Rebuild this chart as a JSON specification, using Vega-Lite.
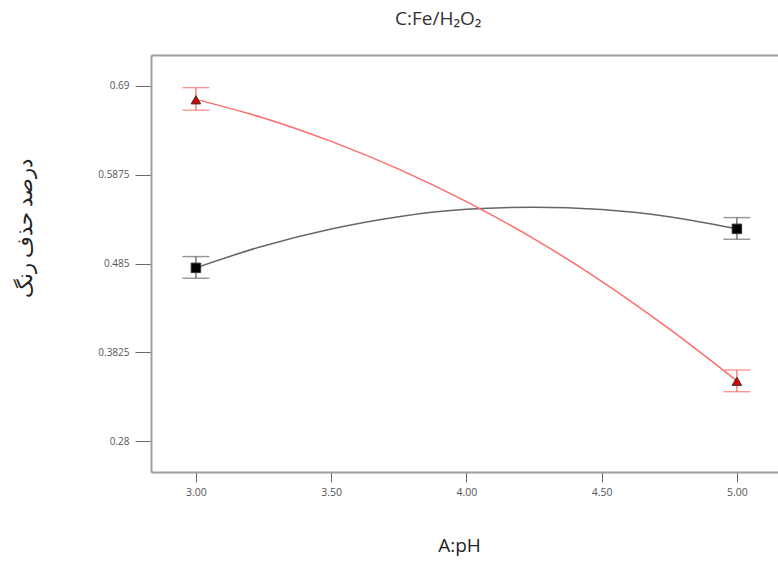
{
  "$schema": "https://vega.github.io/schema/vega-lite/v6.json",
  "width": 627,
  "height": 417,
  "autosize": {"type": "none"},
  "padding": {"left": 151, "top": 55, "right": 0, "bottom": 94},
  "background": "white",
  "config": {
    "view": {"stroke": null},
    "axis": {"grid": false, "labelFont": "Open Sans", "titleFont": "Open Sans", "labelColor": "#555555", "tickColor": "#6a6a6a", "domainColor": "#a0a0a0", "domainWidth": 2, "titleFontWeight": "normal", "titleColor": "#222222"}
  },
  "title": {"text": "C:Fe/H₂O₂", "anchor": "start", "frame": "group", "dx": 244, "offset": 26, "fontSize": 19, "font": "Open Sans", "fontWeight": "normal", "color": "#333333"},
  "datasets": {
    "curve": [
      {"pH": 3.0, "removal": 0.4800, "level": "black"},
      {"pH": 3.25, "removal": 0.5053, "level": "black"},
      {"pH": 3.5, "removal": 0.5249, "level": "black"},
      {"pH": 3.75, "removal": 0.5391, "level": "black"},
      {"pH": 4.0, "removal": 0.5475, "level": "black"},
      {"pH": 4.25, "removal": 0.5500, "level": "black"},
      {"pH": 4.5, "removal": 0.5472, "level": "black"},
      {"pH": 4.75, "removal": 0.5391, "level": "black"},
      {"pH": 5.0, "removal": 0.5250, "level": "black"},
      {"pH": 3.0, "removal": 0.6745, "level": "red"},
      {"pH": 3.25, "removal": 0.6530, "level": "red"},
      {"pH": 3.5, "removal": 0.6260, "level": "red"},
      {"pH": 3.75, "removal": 0.5940, "level": "red"},
      {"pH": 4.0, "removal": 0.5565, "level": "red"},
      {"pH": 4.25, "removal": 0.5135, "level": "red"},
      {"pH": 4.5, "removal": 0.4645, "level": "red"},
      {"pH": 4.75, "removal": 0.4095, "level": "red"},
      {"pH": 5.0, "removal": 0.3495, "level": "red"}
    ],
    "points": [
      {"pH": 3.0, "removal": 0.480, "lo": 0.468, "hi": 0.493, "level": "black"},
      {"pH": 5.0, "removal": 0.525, "lo": 0.513, "hi": 0.538, "level": "black"},
      {"pH": 3.0, "removal": 0.674, "lo": 0.662, "hi": 0.688, "level": "red"},
      {"pH": 5.0, "removal": 0.349, "lo": 0.337, "hi": 0.362, "level": "red"}
    ]
  },
  "resolve": {"axis": {"x": "independent", "y": "independent"}},
  "layer": [
    {
      "data": {"name": "curve"},
      "mark": {"type": "line", "strokeWidth": 1.5, "interpolate": "monotone"},
      "encoding": {
        "x": {"field": "pH", "type": "quantitative", "scale": {"domain": [2.834, 5.152], "nice": false, "zero": false},
          "axis": {"orient": "bottom", "values": [3, 3.5, 4, 4.5, 5], "labelExpr": "format(datum.value, '.2f')", "tickSize": 10, "labelFontSize": 10.5, "labelPadding": 5, "title": "A:pH", "titleFontSize": 19, "titleX": 308, "titleY": 73, "titleBaseline": "middle", "titleAnchor": null}},
        "y": {"field": "removal", "type": "quantitative", "scale": {"domain": [0.2443, 0.7257], "nice": false, "zero": false},
          "axis": {"orient": "left", "values": [0.28, 0.3825, 0.485, 0.5875, 0.69], "labelExpr": "format(datum.value, '.4~f')", "tickSize": 16, "labelFontSize": 10, "labelPadding": 6, "title": "درصد حذف رنگ", "titleFontSize": 21, "titleX": -126, "titleY": 173, "titleAngle": 270, "titleAlign": "center", "titleBaseline": "middle"}},
        "color": {"field": "level", "type": "nominal", "scale": {"domain": ["black", "red"], "range": ["#666666", "#ff6b6b"]}, "legend": null}
      }
    },
    {
      "data": {"name": "points"},
      "mark": {"type": "rule", "strokeWidth": 1.3},
      "encoding": {
        "x": {"field": "pH", "type": "quantitative", "axis": {"orient": "top", "labels": false, "ticks": false, "title": null}},
        "y": {"field": "lo", "type": "quantitative", "axis": {"orient": "right", "labels": false, "ticks": false, "domain": false, "title": null}},
        "y2": {"field": "hi"},
        "color": {"field": "level", "type": "nominal", "legend": null}
      }
    },
    {
      "data": {"name": "points"},
      "mark": {"type": "tick", "orient": "horizontal", "size": 27, "thickness": 1.4},
      "encoding": {
        "x": {"field": "pH", "type": "quantitative", "axis": null},
        "y": {"field": "lo", "type": "quantitative", "axis": null},
        "color": {"field": "level", "type": "nominal", "legend": null}
      }
    },
    {
      "data": {"name": "points"},
      "mark": {"type": "tick", "orient": "horizontal", "size": 27, "thickness": 1.4},
      "encoding": {
        "x": {"field": "pH", "type": "quantitative", "axis": null},
        "y": {"field": "hi", "type": "quantitative", "axis": null},
        "color": {"field": "level", "type": "nominal", "legend": null}
      }
    },
    {
      "data": {"name": "points"},
      "mark": {"type": "point", "filled": true, "opacity": 1, "strokeWidth": 1, "stroke": "#333333"},
      "encoding": {
        "x": {"field": "pH", "type": "quantitative", "axis": null},
        "y": {"field": "removal", "type": "quantitative", "axis": null},
        "shape": {"field": "level", "type": "nominal", "scale": {"domain": ["black", "red"], "range": ["square", "triangle-up"]}, "legend": null},
        "fill": {"field": "level", "type": "nominal", "scale": {"domain": ["black", "red"], "range": ["#000000", "#dd0000"]}, "legend": null},
        "size": {"value": 90}
      }
    }
  ]
}
